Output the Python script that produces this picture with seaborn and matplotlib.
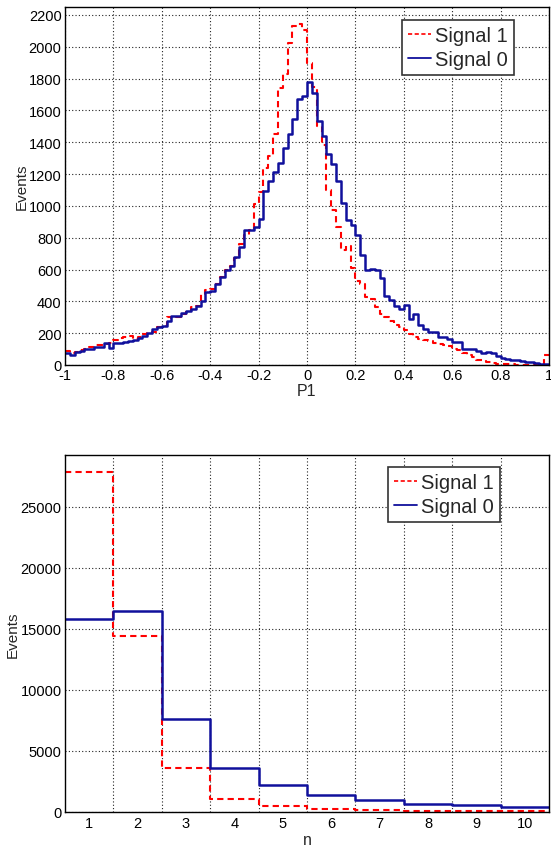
import numpy as np
import pandas as pd
import matplotlib
matplotlib.use("Agg")
import matplotlib.pyplot as plt
from matplotlib.lines import Line2D
from matplotlib.ticker import MultipleLocator, FixedLocator, NullFormatter
import seaborn as sns

# ---------------- data ----------------
p1_lo = -1.0
p1_hi = 1.0
p1_nbins = 100

signal1_p1 = [
    88, 74, 84, 93, 103, 116, 124, 124, 131, 141,
    156, 168, 177, 183, 162, 177, 194, 204, 210, 236,
    242, 299, 295, 299, 320, 341, 362, 373, 446, 472,
    478, 509, 552, 598, 625, 674, 762, 815, 846, 1015,
    1090, 1240, 1315, 1450, 1743, 1827, 2021, 2128, 2143, 2105,
    1901, 1750, 1500, 1385, 1101, 972, 867, 720, 751, 610,
    530, 509, 425, 415, 366, 320, 303, 278, 253, 236,
    219, 196, 179, 165, 154, 148, 137, 133, 127, 117,
    102, 92, 75, 60, 50, 33, 29, 19, 12, 8,
    5, 4, 4, 3, 3, 3, 2, 2, 2, 60,
]
signal0_p1 = [
    74, 63, 84, 88, 99, 103, 114, 114, 137, 109,
    137, 137, 143, 152, 158, 168, 181, 204, 225, 236,
    242, 274, 305, 305, 326, 341, 352, 373, 400, 457,
    467, 509, 552, 594, 625, 678, 741, 846, 846, 867,
    916, 1091, 1154, 1211, 1270, 1364, 1449, 1543, 1670, 1691,
    1779, 1712, 1533, 1442, 1329, 1265, 1154, 1017, 912, 880,
    817, 691, 596, 606, 596, 547, 432, 406, 371, 352,
    377, 290, 321, 254, 227, 210, 206, 179, 179, 165,
    144, 144, 102, 102, 102, 87, 75, 81, 75, 54,
    46, 40, 29, 29, 25, 19, 17, 12, 8, 8,
]

n_labels = ["1", "2", "3", "4", "5", "6", "7", "8", "9", "10"]
signal1_n = [27860, 14390, 3630, 1090, 460, 270, 190, 110, 80, 55]
signal0_n = [15850, 16450, 7640, 3630, 2180, 1365, 955, 685, 545, 410]

series_names = ["Signal 1", "Signal 0"]

# ---------------- styling ----------------
RED = "#ff0000"
BLUE = "#10109c"
FONT = ["Liberation Sans", "DejaVu Sans"]

sns.set_theme(style="white")
plt.rcParams["font.family"] = FONT
plt.rcParams["axes.edgecolor"] = "black"
plt.rcParams["axes.linewidth"] = 1.0

fig = plt.figure(figsize=(5.51, 8.53), dpi=100)
ax1 = fig.add_axes([65 / 551, 1 - 366 / 853, 484 / 551, 358 / 853])
ax2 = fig.add_axes([65 / 551, 1 - 813 / 853, 484 / 551, 357 / 853])

grid_kw = dict(color="#222222", linestyle=(0, (1, 2)), linewidth=0.8)


def style_axes(ax):
    ax.set_facecolor("white")
    for s in ax.spines.values():
        s.set_visible(True)
        s.set_color("black")
        s.set_linewidth(1.0)
    ax.tick_params(axis="both", which="major", direction="in", length=9,
                   width=1.0, colors="black", labelsize=10.5, pad=2.5,
                   top=False, right=False)
    ax.tick_params(axis="both", which="minor", direction="in", length=4.5,
                   width=1.0, colors="black", top=False, right=False)
    ax.set_axisbelow(True)


# ---------------- top panel ----------------
edges = np.linspace(p1_lo, p1_hi, p1_nbins + 1)
centers = (edges[:-1] + edges[1:]) / 2
df1 = pd.DataFrame({
    "P1": np.concatenate([centers, centers]),
    "Events": np.concatenate([signal1_p1, signal0_p1]).astype(float),
    "series": [series_names[0]] * p1_nbins + [series_names[1]] * p1_nbins,
})

sns.histplot(data=df1[df1.series == "Signal 1"], x="P1", weights="Events",
             bins=p1_nbins, binrange=(p1_lo, p1_hi), element="step",
             fill=False, color=RED, linestyle=(0, (3, 2)), linewidth=1.5,
             ax=ax1)
sns.histplot(data=df1[df1.series == "Signal 0"], x="P1", weights="Events",
             bins=p1_nbins, binrange=(p1_lo, p1_hi), element="step",
             fill=False, color=BLUE, linewidth=1.8, ax=ax1)

style_axes(ax1)
ax1.set_xlim(-1, 1)
ax1.set_ylim(0, 2250)
ax1.xaxis.set_major_locator(MultipleLocator(0.2))
ax1.xaxis.set_minor_locator(MultipleLocator(0.05))
ax1.yaxis.set_major_locator(MultipleLocator(200))
ax1.yaxis.set_minor_locator(MultipleLocator(50))
ax1.xaxis.set_major_formatter(plt.FuncFormatter(lambda v, p: f"{round(v, 2):g}"))
ax1.grid(True, which="major", **grid_kw)
ax1.set_xlabel("P1", fontsize=11.5)
ax1.set_ylabel("Events", fontsize=11)
ax1.xaxis.set_label_coords(0.5, -0.05)
ax1.yaxis.set_label_coords(-0.074, 0.5)

# ---------------- bottom panel ----------------
n_pos = np.arange(1, len(n_labels) + 1)
n_edges = np.arange(0.5, len(n_labels) + 1.0, 1.0)
df2 = pd.DataFrame({
    "n": np.concatenate([n_pos, n_pos]).astype(float),
    "Events": np.concatenate([signal1_n, signal0_n]).astype(float),
    "series": [series_names[0]] * len(n_pos) + [series_names[1]] * len(n_pos),
})
sns.histplot(data=df2[df2.series == "Signal 1"], x="n", weights="Events",
             bins=len(n_labels), binrange=(0.5, len(n_labels) + 0.5),
             element="step", fill=False, color=RED, linestyle=(0, (3, 2)),
             linewidth=1.5, ax=ax2)
sns.histplot(data=df2[df2.series == "Signal 0"], x="n", weights="Events",
             bins=len(n_labels), binrange=(0.5, len(n_labels) + 0.5),
             element="step", fill=False, color=BLUE, linewidth=1.8, ax=ax2)

style_axes(ax2)
ax2.set_xlim(0.5, 10.5)
ax2.set_ylim(0, 29250)
ax2.xaxis.set_major_locator(FixedLocator(n_edges[1:-1]))
ax2.xaxis.set_major_formatter(NullFormatter())
ax2.xaxis.set_minor_locator(FixedLocator(n_pos))
ax2.set_xticklabels(n_labels, minor=True)
ax2.tick_params(axis="x", which="major", length=0)
ax2.tick_params(axis="x", which="minor", length=0, labelsize=10.5, pad=3)
ax2.yaxis.set_major_locator(MultipleLocator(5000))
ax2.yaxis.set_minor_locator(MultipleLocator(1000))
ax2.grid(True, which="major", **grid_kw)
ax2.set_xlabel("n", fontsize=11.5)
ax2.set_ylabel("Events", fontsize=11)
ax2.xaxis.set_label_coords(0.5, -0.055)
ax2.yaxis.set_label_coords(-0.094, 0.5)

# ---------------- legends ----------------
handles = [
    Line2D([], [], color=RED, linestyle=(0, (2.5, 1.5)), linewidth=1.2),
    Line2D([], [], color=BLUE, linewidth=1.3),
]
for ax, bbox in ((ax1, ((402 - 65) / 484, (366 - 21) / 358)),
                 (ax2, ((388 - 65) / 484, (813 - 468) / 357))):
    leg = ax.legend(handles, series_names, loc="upper left",
                    bbox_to_anchor=bbox, frameon=True, fancybox=False,
                    fontsize=14.5, handlelength=1.15, handletextpad=0.2,
                    borderpad=0.3, labelspacing=0.25, borderaxespad=0.0)
    leg.get_frame().set_edgecolor("#333333")
    leg.get_frame().set_linewidth(1.2)
    leg.get_frame().set_facecolor("white")
    leg.get_frame().set_alpha(1.0)

fig.savefig("out.png", dpi=100, facecolor="white")
